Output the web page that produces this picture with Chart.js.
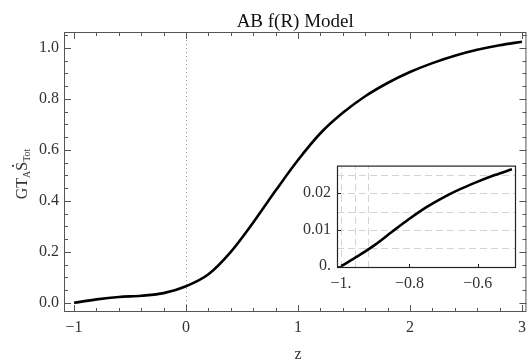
<!DOCTYPE html>
<html lang="en">
<head>
<meta charset="UTF-8">
<title>AB f(R) Model</title>
<script src="https://cdn.jsdelivr.net/npm/chart.js"></script>
<style>
  body { margin: 0; background: #fff; }
  #wrap { position: relative; width: 532px; height: 360px; }
  #mainChart { position: absolute; left: 0; top: 0; }
  #insetChart { position: absolute; left: 300px; top: 150px; }
</style>
</head>
<body>
<div id="wrap">
  <canvas id="mainChart" width="532" height="360"></canvas>
  <canvas id="insetChart" width="222" height="145"></canvas>
</div>

<script>
// main curve
const zMain = [-1, -0.8, -0.6, -0.4, -0.2, 0, 0.2, 0.4, 0.6, 0.8, 1.0, 1.2, 1.4, 1.6, 1.8, 2.0, 2.2, 2.4, 2.6, 2.8, 3.0];
const sMain = [0, 0.0134, 0.023, 0.028, 0.038, 0.065, 0.112, 0.2, 0.315, 0.44, 0.56, 0.665, 0.745, 0.81, 0.862, 0.905, 0.94, 0.969, 0.992, 1.01, 1.024];
const xTicksMain = [-1, 0, 1, 2, 3];
const yTicksMain = [0, 0.2, 0.4, 0.6, 0.8, 1.0];

// inset curve
const zInset = [-1, -0.95, -0.9, -0.85, -0.8, -0.75, -0.7, -0.65, -0.6, -0.55, -0.5];
const sInset = [0, 0.0028, 0.0059, 0.0095, 0.013, 0.0162, 0.0189, 0.0212, 0.0232, 0.025, 0.0266];
const xTicksInset = [-1, -0.8, -0.6];
const yTicksInset = [0, 0.01, 0.02];
const xGridInset = [-1, -0.96, -0.92];
const yGridInset = [0.005, 0.01, 0.015, 0.02, 0.025];

const SERIF = "'Liberation Serif', 'DejaVu Serif', serif";
const LABEL_COLOR = '#333';

function fmtMinus(s) {
    return s.replace('-', '\u2212');
}

function setTicks(values) {
    return function(scale) {
        scale.ticks = values.map(v => ({ value: v }));
    };
}

// frame, inward ticks, zero line and texts for the main plot
const mainFrame = {
    id: 'mainFrame',
    beforeDatasetsDraw(chart) {
        const { ctx, chartArea: a, scales: { x } } = chart;
        const x0 = x.getPixelForValue(0);
        ctx.save();
        ctx.strokeStyle = '#999';
        ctx.lineWidth = 1;
        ctx.setLineDash([1, 3]);
        ctx.beginPath();
        ctx.moveTo(Math.round(x0) + 0.5, a.top);
        ctx.lineTo(Math.round(x0) + 0.5, a.bottom);
        ctx.stroke();
        ctx.restore();
    },
    afterDraw(chart) {
        const { ctx, chartArea: a, scales: { x, y } } = chart;
        ctx.save();
        ctx.strokeStyle = '#555';
        ctx.lineWidth = 1;
        ctx.strokeRect(a.left + 0.5, a.top + 0.5, a.right - a.left - 1, a.bottom - a.top - 1);

        // x ticks, every 0.2, major at integers
        for (let i = -5; i <= 15; i++) {
            const v = i / 5;
            const px = Math.round(x.getPixelForValue(v)) + 0.5;
            const len = (i % 5 === 0) ? 7 : 4;
            ctx.beginPath();
            ctx.moveTo(px, a.bottom);
            ctx.lineTo(px, a.bottom - len);
            ctx.moveTo(px, a.top);
            ctx.lineTo(px, a.top + len);
            ctx.stroke();
        }
        // y ticks, every 0.05, major at 0.2
        for (let i = 0; i <= 21; i++) {
            const v = i * 0.05;
            const py = Math.round(y.getPixelForValue(v)) + 0.5;
            const len = (i % 4 === 0) ? 7 : 4;
            ctx.beginPath();
            ctx.moveTo(a.left, py);
            ctx.lineTo(a.left + len, py);
            ctx.moveTo(a.right, py);
            ctx.lineTo(a.right - len, py);
            ctx.stroke();
        }

        // title
        ctx.fillStyle = '#111';
        ctx.font = '19px ' + SERIF;
        ctx.textAlign = 'center';
        ctx.textBaseline = 'alphabetic';
        ctx.fillText('AB f(R) Model', (a.left + a.right) / 2, 27);

        // x axis title
        ctx.fillStyle = LABEL_COLOR;
        ctx.font = '16px ' + SERIF;
        ctx.fillText('z', x.getPixelForValue(1), 359);

        // y axis title: GT_A S-dot_Tot
        ctx.translate(27, 174);
        ctx.rotate(-Math.PI / 2);
        ctx.textAlign = 'left';
        const big = '16px ' + SERIF, small = '10px ' + SERIF;
        const parts = [['GT', big, 0], ['A', small, 3], ['S', big, 0], ['Tot', small, 3]];
        let w = 0;
        parts.forEach(p => { ctx.font = p[1]; w += ctx.measureText(p[0]).width; });
        let cx = -w / 2;
        parts.forEach(p => {
            ctx.font = p[1];
            ctx.fillText(p[0], cx, p[2]);
            if (p[0] === 'S') {
                const sw = ctx.measureText('S').width;
                ctx.beginPath();
                ctx.arc(cx + sw / 2 + 0.5, -14, 1.1, 0, Math.PI * 2);
                ctx.fill();
            }
            cx += ctx.measureText(p[0]).width;
        });
        ctx.restore();
    }
};

// white background, dashed grid and frame for the inset
const insetFrame = {
    id: 'insetFrame',
    beforeDatasetsDraw(chart) {
        const { ctx, chartArea: a, scales: { x, y } } = chart;
        ctx.save();
        ctx.fillStyle = '#fff';
        ctx.fillRect(a.left, a.top, a.right - a.left, a.bottom - a.top);
        ctx.strokeStyle = '#d4d4d4';
        ctx.lineWidth = 1;
        ctx.setLineDash([7, 4]);
        yGridInset.forEach(v => {
            const py = Math.round(y.getPixelForValue(v)) + 0.5;
            ctx.beginPath();
            ctx.moveTo(a.left, py);
            ctx.lineTo(a.right, py);
            ctx.stroke();
        });
        xGridInset.forEach(v => {
            const px = Math.round(x.getPixelForValue(v)) + 0.5;
            ctx.beginPath();
            ctx.moveTo(px, a.bottom);
            ctx.lineTo(px, a.top);
            ctx.stroke();
        });
        ctx.restore();
    },
    afterDraw(chart) {
        const { ctx, chartArea: a, scales: { x, y } } = chart;
        ctx.save();
        ctx.strokeStyle = '#222';
        ctx.lineWidth = 1.2;
        ctx.strokeRect(a.left + 0.5, a.top + 0.5, a.right - a.left - 1, a.bottom - a.top - 1);
        ctx.lineWidth = 1;
        xTicksInset.forEach(v => {
            const px = Math.round(x.getPixelForValue(v)) + 0.5;
            ctx.beginPath();
            ctx.moveTo(px, a.bottom);
            ctx.lineTo(px, a.bottom - 4);
            ctx.stroke();
        });
        yTicksInset.forEach(v => {
            const py = Math.round(y.getPixelForValue(v)) + 0.5;
            ctx.beginPath();
            ctx.moveTo(a.left, py);
            ctx.lineTo(a.left + 4, py);
            ctx.stroke();
        });
        ctx.restore();
    }
};

new Chart(document.getElementById('mainChart'), {
    type: 'line',
    data: {
        datasets: [{
            data: zMain.map((z, i) => ({ x: z, y: sMain[i] })),
            borderColor: '#000',
            borderWidth: 2.6,
            pointRadius: 0,
            cubicInterpolationMode: 'monotone',
            fill: false
        }]
    },
    options: {
        responsive: false,
        animation: false,
        devicePixelRatio: 1,
        layout: { padding: { top: 32, right: 5, left: 0, bottom: 0 } },
        plugins: { legend: { display: false }, tooltip: { enabled: false } },
        scales: {
            x: {
                type: 'linear',
                min: -1.09,
                max: 3.04,
                afterBuildTicks: setTicks(xTicksMain),
                afterFit(scale) { scale.height = 48; },
                grid: { display: false, drawTicks: false },
                border: { display: false },
                ticks: {
                    padding: 6,
                    color: LABEL_COLOR,
                    font: { family: SERIF, size: 16 },
                    callback: v => fmtMinus(String(v))
                }
            },
            y: {
                type: 'linear',
                min: -0.036,
                max: 1.062,
                afterBuildTicks: setTicks(yTicksMain),
                afterFit(scale) { scale.width = 64; },
                grid: { display: false, drawTicks: false },
                border: { display: false },
                ticks: {
                    padding: 5,
                    color: LABEL_COLOR,
                    font: { family: SERIF, size: 16 },
                    callback: v => v.toFixed(1)
                }
            }
        }
    },
    plugins: [mainFrame]
});

new Chart(document.getElementById('insetChart'), {
    type: 'line',
    data: {
        datasets: [{
            data: zInset.map((z, i) => ({ x: z, y: sInset[i] })),
            borderColor: '#000',
            borderWidth: 2.6,
            pointRadius: 0,
            cubicInterpolationMode: 'monotone',
            fill: false
        }]
    },
    options: {
        responsive: false,
        animation: false,
        devicePixelRatio: 1,
        layout: { padding: { top: 11, right: 6, left: 0, bottom: 0 } },
        plugins: { legend: { display: false }, tooltip: { enabled: false } },
        scales: {
            x: {
                type: 'linear',
                min: -1.012,
                max: -0.488,
                afterBuildTicks: setTicks(xTicksInset),
                afterFit(scale) { scale.height = 27; },
                grid: { display: false, drawTicks: false },
                border: { display: false },
                ticks: {
                    padding: 6,
                    color: LABEL_COLOR,
                    font: { family: SERIF, size: 16 },
                    callback: v => fmtMinus(v === -1 ? '-1.' : String(v))
                }
            },
            y: {
                type: 'linear',
                min: -0.0005,
                max: 0.0276,
                afterBuildTicks: setTicks(yTicksInset),
                afterFit(scale) { scale.width = 37; },
                grid: { display: false, drawTicks: false },
                border: { display: false },
                ticks: {
                    padding: 6,
                    color: LABEL_COLOR,
                    font: { family: SERIF, size: 16 },
                    callback: v => v === 0 ? '0.' : String(v)
                }
            }
        }
    },
    plugins: [insetFrame]
});
</script>
</body>
</html>
